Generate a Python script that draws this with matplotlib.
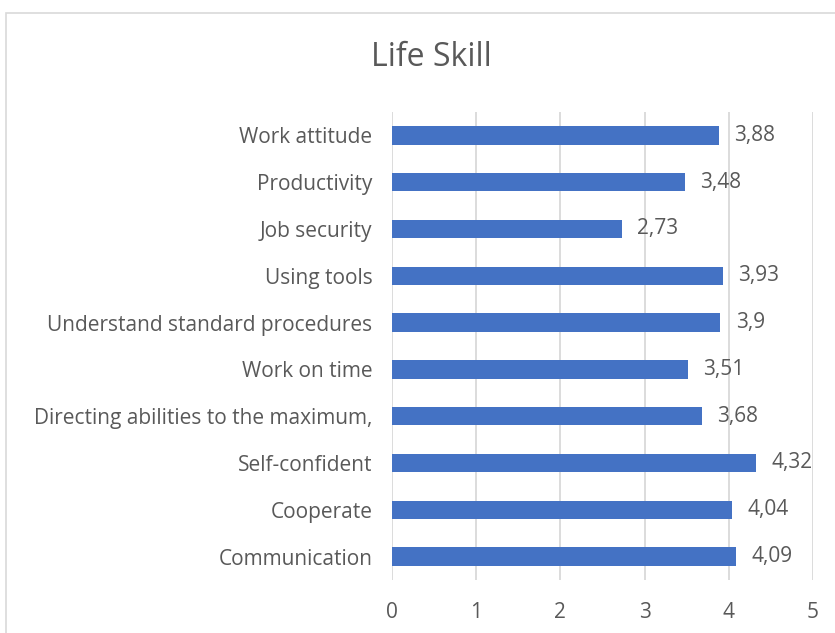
import matplotlib
matplotlib.use("Agg")
import matplotlib.pyplot as plt
from matplotlib.patches import Rectangle

categories = ["Communication", "Cooperate", "Self-confident",
              "Directing abilities to the maximum,", "Work on time",
              "Understand standard procedures", "Using tools", "Job security",
              "Productivity", "Work attitude"]
values = [4.09, 4.04, 4.32, 3.68, 3.51, 3.9, 3.93, 2.73, 3.48, 3.88]
xticks = [0, 1, 2, 3, 4, 5]
title = "Life Skill"

plt.rcParams['font.family'] = ['Open Sans', 'DejaVu Sans']
txt = '#595959'

fig = plt.figure(figsize=(8.35, 6.33), dpi=100)
W, H = 835, 633
ax = fig.add_axes([392 / W, 1 - 580 / H, (813 - 392) / W, (580 - 112) / H])

y = list(range(len(categories)))
ax.barh(y, values, height=0.39, color='#4472C4', zorder=3)
for yi, v in zip(y, values):
    lab = f"{v:g}".replace('.', ',')
    ax.annotate(lab, (v, yi), xytext=(11, 0), textcoords='offset points',
                va='center', ha='left', fontsize=15, color=txt)

ax.set_xlim(0, 5)
ax.set_ylim(-0.5, len(categories) - 0.5)
ax.set_xticks(xticks)
ax.set_xticklabels([str(t) for t in xticks], fontsize=15, color=txt)
ax.set_yticks(y)
ax.set_yticklabels(categories, fontsize=15, color=txt)
ax.tick_params(axis='y', length=0, pad=14)
ax.tick_params(axis='x', length=0, pad=16)
ax.grid(axis='x', color='#d9d9d9', linewidth=1.3, zorder=0)
for s in ax.spines.values():
    s.set_visible(False)

fig.text(0.517, 1 - 58 / H, title, ha='center', va='center', fontsize=23,
         color=txt)

fig.patches.append(Rectangle((6 / W, -0.1), 1.2, 1 - 13 / H + 0.1,
                             transform=fig.transFigure, fill=False,
                             edgecolor='#d9d9d9', linewidth=1.2))

fig.savefig('out.png', dpi=100)
